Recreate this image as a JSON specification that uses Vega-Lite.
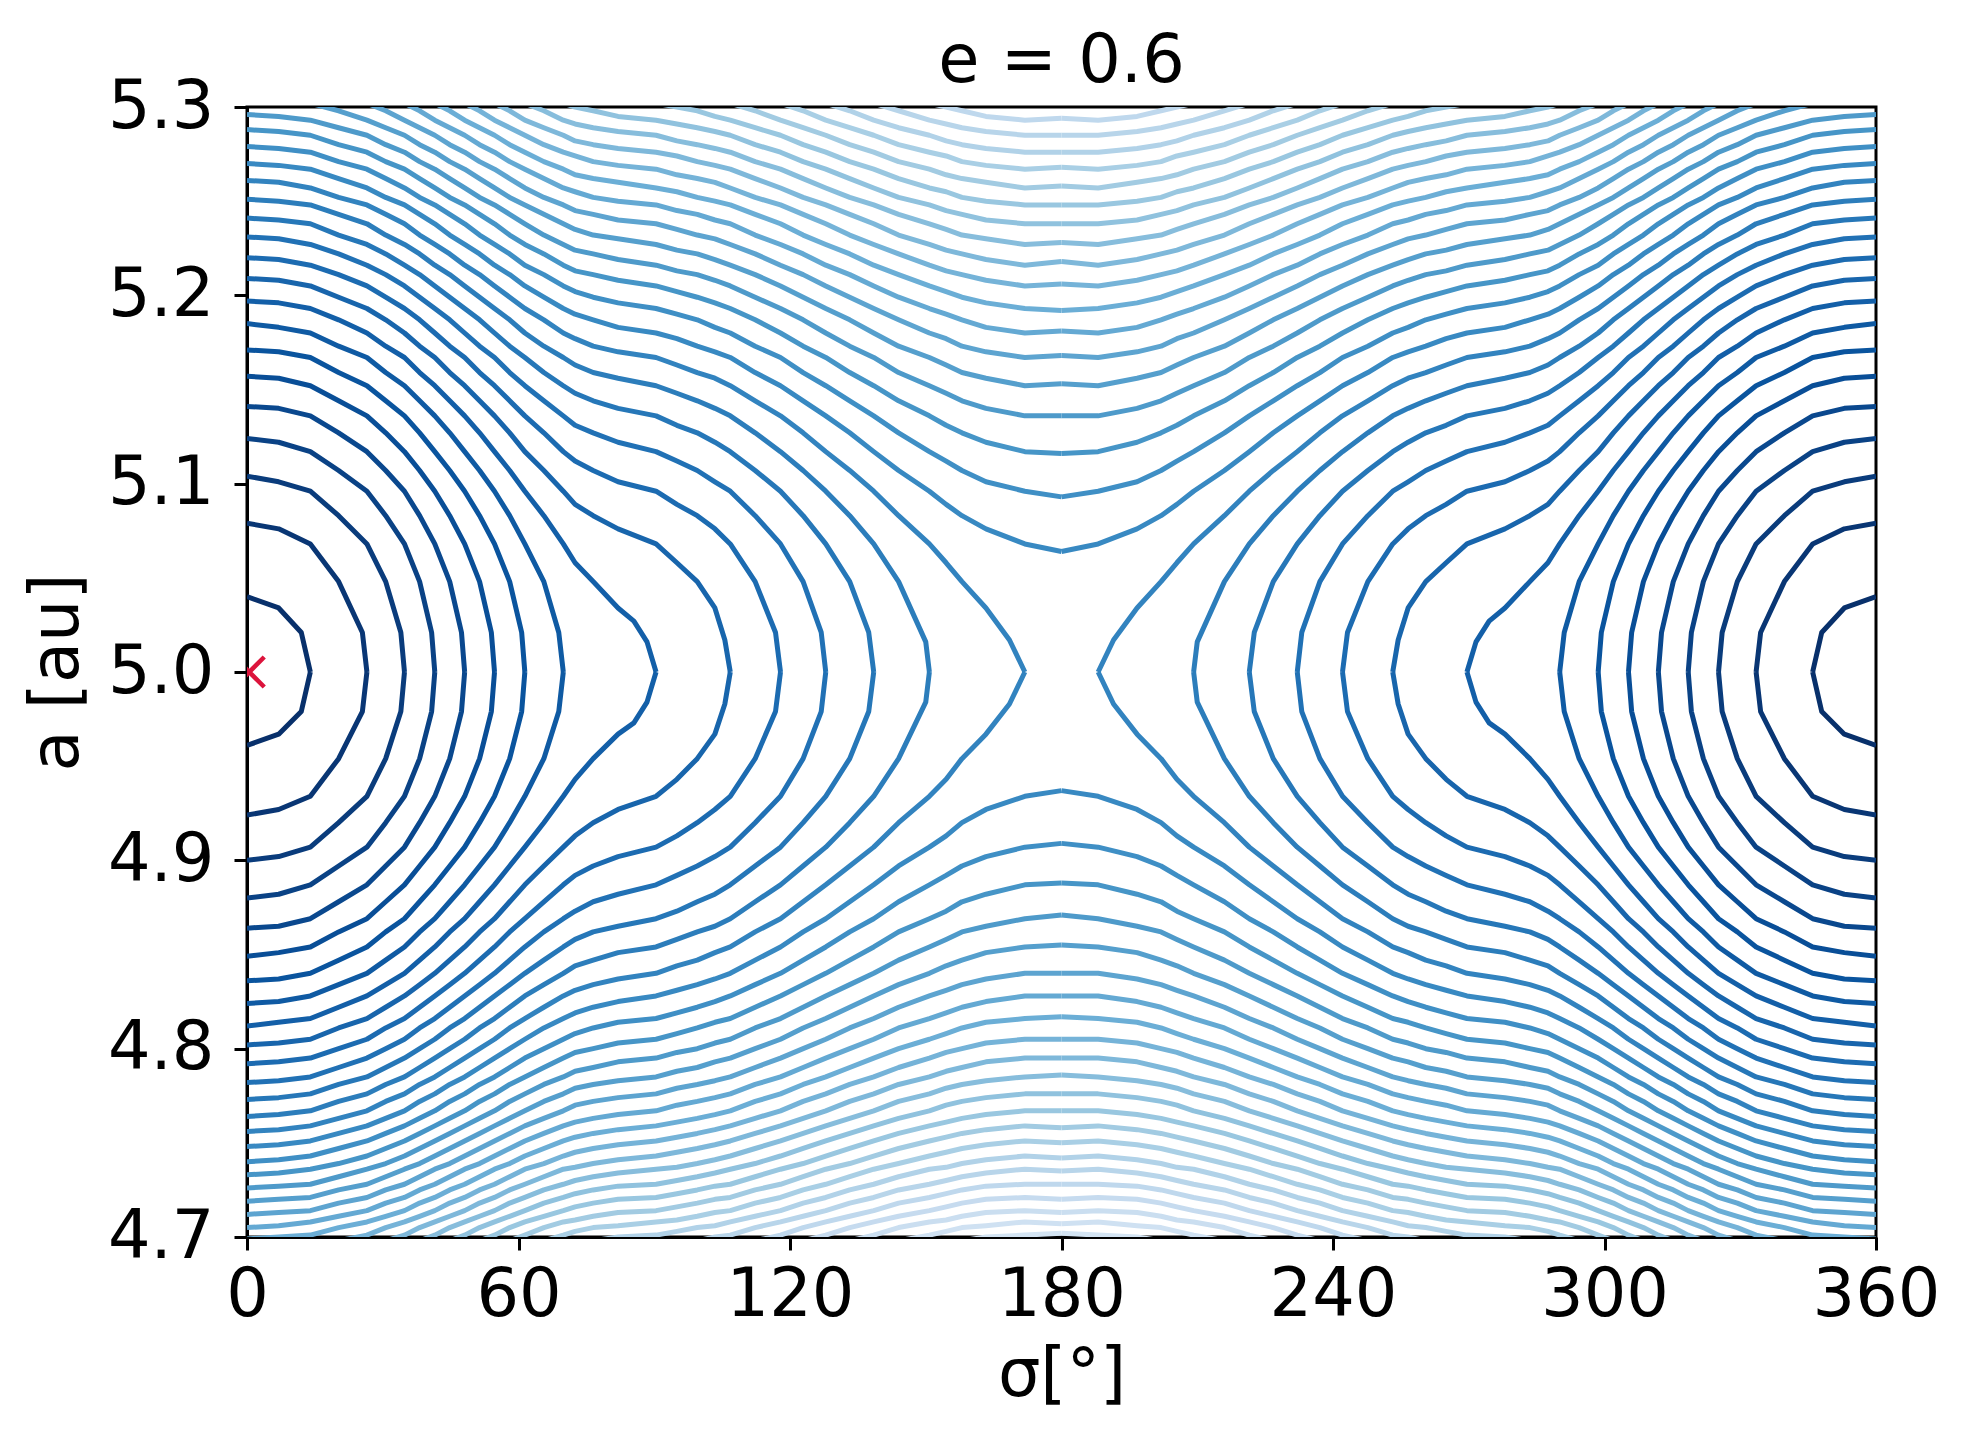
{
"$schema": "https://vega.github.io/schema/vega-lite/v6.json",
"width": 1629, "height": 1130,
"autosize": {"type": "none"},
"padding": {"left": 247, "top": 107, "right": 93, "bottom": 210},
"background": "white",
"title": {"text": "e = 0.6", "fontSize": 67, "font": "DejaVu Sans", "fontWeight": "normal", "color": "black", "frame": "group", "anchor": "middle", "baseline": "alphabetic", "offset": -76},
"datasets": {
"mk": [{"s": 0.5, "a": 5.0}],
"c": [
{"k":0,"s":0,"m":360,"t":5.04,"b":4.961},
{"k":0,"s":7,"m":353,"t":5.034,"b":4.967},
{"k":0,"s":12,"m":348,"t":5.021,"b":4.979},
{"k":0,"s":14,"m":346,"t":5,"b":5},
{"k":1,"s":0,"m":360,"t":5.079,"b":4.924},
{"k":1,"s":7,"m":353,"t":5.076,"b":4.927},
{"k":1,"s":14,"m":346,"t":5.068,"b":4.934},
{"k":1,"s":20.25,"m":339.75,"t":5.048,"b":4.954},
{"k":1,"s":25.5,"m":334.5,"t":5.021,"b":4.979},
{"k":1,"s":26.5,"m":333.5,"t":5,"b":5},
{"k":2,"s":0,"m":360,"t":5.104,"b":4.9},
{"k":2,"s":7,"m":353,"t":5.101,"b":4.902},
{"k":2,"s":14,"m":346,"t":5.096,"b":4.907},
{"k":2,"s":20.25,"m":339.75,"t":5.083,"b":4.92},
{"k":2,"s":26.5,"m":333.5,"t":5.068,"b":4.934},
{"k":2,"s":30.65,"m":329.35,"t":5.048,"b":4.954},
{"k":2,"s":34,"m":326,"t":5.021,"b":4.979},
{"k":2,"s":34.8,"m":325.2,"t":5,"b":5},
{"k":3,"s":0,"m":360,"t":5.124,"b":4.88},
{"k":3,"s":7,"m":353,"t":5.122,"b":4.882},
{"k":3,"s":14,"m":346,"t":5.117,"b":4.887},
{"k":3,"s":20.25,"m":339.75,"t":5.107,"b":4.897},
{"k":3,"s":26.5,"m":333.5,"t":5.096,"b":4.907},
{"k":3,"s":30.65,"m":329.35,"t":5.083,"b":4.92},
{"k":3,"s":34.8,"m":325.2,"t":5.068,"b":4.934},
{"k":3,"s":38.15,"m":321.85,"t":5.048,"b":4.954},
{"k":3,"s":40.8,"m":319.2,"t":5.021,"b":4.979},
{"k":3,"s":41.5,"m":318.5,"t":5,"b":5},
{"k":4,"s":0,"m":360,"t":5.141,"b":4.864},
{"k":4,"s":7,"m":353,"t":5.14,"b":4.865},
{"k":4,"s":14,"m":346,"t":5.136,"b":4.869},
{"k":4,"s":20.25,"m":339.75,"t":5.127,"b":4.878},
{"k":4,"s":26.5,"m":333.5,"t":5.117,"b":4.887},
{"k":4,"s":30.65,"m":329.35,"t":5.107,"b":4.897},
{"k":4,"s":34.8,"m":325.2,"t":5.096,"b":4.907},
{"k":4,"s":38.15,"m":321.85,"t":5.083,"b":4.92},
{"k":4,"s":41.5,"m":318.5,"t":5.068,"b":4.934},
{"k":4,"s":44.8,"m":315.2,"t":5.048,"b":4.954},
{"k":4,"s":47.4,"m":312.6,"t":5.021,"b":4.979},
{"k":4,"s":48.1,"m":311.9,"t":5,"b":5},
{"k":5,"s":0,"m":360,"t":5.157,"b":4.849},
{"k":5,"s":7,"m":353,"t":5.156,"b":4.851},
{"k":5,"s":14,"m":346,"t":5.152,"b":4.854},
{"k":5,"s":20.25,"m":339.75,"t":5.144,"b":4.862},
{"k":5,"s":26.5,"m":333.5,"t":5.136,"b":4.869},
{"k":5,"s":30.65,"m":329.35,"t":5.127,"b":4.878},
{"k":5,"s":34.8,"m":325.2,"t":5.117,"b":4.887},
{"k":5,"s":38.15,"m":321.85,"t":5.107,"b":4.897},
{"k":5,"s":41.5,"m":318.5,"t":5.096,"b":4.907},
{"k":5,"s":44.8,"m":315.2,"t":5.083,"b":4.92},
{"k":5,"s":48.1,"m":311.9,"t":5.068,"b":4.934},
{"k":5,"s":51.4,"m":308.6,"t":5.048,"b":4.954},
{"k":5,"s":54,"m":306,"t":5.021,"b":4.979},
{"k":5,"s":54.7,"m":305.3,"t":5,"b":5},
{"k":6,"s":0,"m":360,"t":5.171,"b":4.836},
{"k":6,"s":7,"m":353,"t":5.17,"b":4.837},
{"k":6,"s":14,"m":346,"t":5.167,"b":4.84},
{"k":6,"s":20.25,"m":339.75,"t":5.159,"b":4.847},
{"k":6,"s":26.5,"m":333.5,"t":5.152,"b":4.854},
{"k":6,"s":30.65,"m":329.35,"t":5.144,"b":4.862},
{"k":6,"s":34.8,"m":325.2,"t":5.136,"b":4.869},
{"k":6,"s":38.15,"m":321.85,"t":5.127,"b":4.878},
{"k":6,"s":41.5,"m":318.5,"t":5.117,"b":4.887},
{"k":6,"s":44.8,"m":315.2,"t":5.107,"b":4.897},
{"k":6,"s":48.1,"m":311.9,"t":5.096,"b":4.907},
{"k":6,"s":51.4,"m":308.6,"t":5.083,"b":4.92},
{"k":6,"s":54.7,"m":305.3,"t":5.068,"b":4.934},
{"k":6,"s":58.05,"m":301.95,"t":5.048,"b":4.954},
{"k":6,"s":60.7,"m":299.3,"t":5.021,"b":4.979},
{"k":6,"s":61.4,"m":298.6,"t":5,"b":5},
{"k":7,"s":0,"m":360,"t":5.185,"b":4.824},
{"k":7,"s":7,"m":353,"t":5.183,"b":4.825},
{"k":7,"s":14,"m":346,"t":5.18,"b":4.828},
{"k":7,"s":20.25,"m":339.75,"t":5.173,"b":4.834},
{"k":7,"s":26.5,"m":333.5,"t":5.167,"b":4.84},
{"k":7,"s":30.65,"m":329.35,"t":5.159,"b":4.847},
{"k":7,"s":34.8,"m":325.2,"t":5.152,"b":4.854},
{"k":7,"s":38.15,"m":321.85,"t":5.144,"b":4.862},
{"k":7,"s":41.5,"m":318.5,"t":5.136,"b":4.869},
{"k":7,"s":44.8,"m":315.2,"t":5.127,"b":4.878},
{"k":7,"s":48.1,"m":311.9,"t":5.117,"b":4.887},
{"k":7,"s":51.4,"m":308.6,"t":5.107,"b":4.897},
{"k":7,"s":54.7,"m":305.3,"t":5.096,"b":4.907},
{"k":7,"s":58.05,"m":301.95,"t":5.083,"b":4.92},
{"k":7,"s":61.4,"m":298.6,"t":5.068,"b":4.934},
{"k":7,"s":65.6,"m":294.4,"t":5.048,"b":4.954},
{"k":7,"s":68.9,"m":291.1,"t":5.021,"b":4.979},
{"k":7,"s":69.9,"m":290.1,"t":5,"b":5},
{"k":8,"s":0,"m":360,"t":5.197,"b":4.812},
{"k":8,"s":7,"m":353,"t":5.196,"b":4.814},
{"k":8,"s":14,"m":346,"t":5.193,"b":4.816},
{"k":8,"s":20.25,"m":339.75,"t":5.187,"b":4.822},
{"k":8,"s":26.5,"m":333.5,"t":5.18,"b":4.828},
{"k":8,"s":30.65,"m":329.35,"t":5.173,"b":4.834},
{"k":8,"s":34.8,"m":325.2,"t":5.167,"b":4.84},
{"k":8,"s":38.15,"m":321.85,"t":5.159,"b":4.847},
{"k":8,"s":41.5,"m":318.5,"t":5.152,"b":4.854},
{"k":8,"s":44.8,"m":315.2,"t":5.144,"b":4.862},
{"k":8,"s":48.1,"m":311.9,"t":5.136,"b":4.869},
{"k":8,"s":51.4,"m":308.6,"t":5.127,"b":4.878},
{"k":8,"s":54.7,"m":305.3,"t":5.117,"b":4.887},
{"k":8,"s":58.05,"m":301.95,"t":5.107,"b":4.897},
{"k":8,"s":61.4,"m":298.6,"t":5.096,"b":4.907},
{"k":8,"s":65.6,"m":294.4,"t":5.083,"b":4.92},
{"k":8,"s":69.9,"m":290.1,"t":5.068,"b":4.934},
{"k":8,"s":72.5,"m":287.5,"t":5.058,"b":4.943},
{"k":8,"s":76.5,"m":283.5,"t":5.048,"b":4.954},
{"k":8,"s":82,"m":278,"t":5.034,"b":4.967},
{"k":8,"s":85.5,"m":274.5,"t":5.027,"b":4.973},
{"k":8,"s":88.4,"m":271.6,"t":5.016,"b":4.984},
{"k":8,"s":90.4,"m":269.6,"t":5,"b":5},
{"k":9,"s":0,"m":360,"t":5.209,"b":4.802},
{"k":9,"s":7,"m":353,"t":5.208,"b":4.803},
{"k":9,"s":14,"m":346,"t":5.205,"b":4.805},
{"k":9,"s":20.25,"m":339.75,"t":5.199,"b":4.811},
{"k":9,"s":26.5,"m":333.5,"t":5.193,"b":4.816},
{"k":9,"s":30.65,"m":329.35,"t":5.187,"b":4.822},
{"k":9,"s":34.8,"m":325.2,"t":5.18,"b":4.828},
{"k":9,"s":38.15,"m":321.85,"t":5.173,"b":4.834},
{"k":9,"s":41.5,"m":318.5,"t":5.167,"b":4.84},
{"k":9,"s":44.8,"m":315.2,"t":5.159,"b":4.847},
{"k":9,"s":48.1,"m":311.9,"t":5.152,"b":4.854},
{"k":9,"s":51.4,"m":308.6,"t":5.144,"b":4.862},
{"k":9,"s":54.7,"m":305.3,"t":5.136,"b":4.869},
{"k":9,"s":58.05,"m":301.95,"t":5.127,"b":4.878},
{"k":9,"s":61.4,"m":298.6,"t":5.117,"b":4.887},
{"k":9,"s":65.6,"m":294.4,"t":5.107,"b":4.897},
{"k":9,"s":69.9,"m":290.1,"t":5.096,"b":4.907},
{"k":9,"s":72.5,"m":287.5,"t":5.089,"b":4.913},
{"k":9,"s":76.5,"m":283.5,"t":5.083,"b":4.92},
{"k":9,"s":82,"m":278,"t":5.076,"b":4.927},
{"k":9,"s":90.4,"m":269.6,"t":5.068,"b":4.934},
{"k":9,"s":95,"m":265,"t":5.058,"b":4.943},
{"k":9,"s":99.5,"m":260.5,"t":5.048,"b":4.954},
{"k":9,"s":103.4,"m":256.6,"t":5.034,"b":4.967},
{"k":9,"s":105.6,"m":254.4,"t":5.017,"b":4.983},
{"k":9,"s":106.8,"m":253.2,"t":5,"b":5},
{"k":10,"s":0,"m":360,"t":5.22,"b":4.792},
{"k":10,"s":7,"m":353,"t":5.219,"b":4.793},
{"k":10,"s":14,"m":346,"t":5.216,"b":4.795},
{"k":10,"s":20.25,"m":339.75,"t":5.211,"b":4.8},
{"k":10,"s":26.5,"m":333.5,"t":5.205,"b":4.805},
{"k":10,"s":30.65,"m":329.35,"t":5.199,"b":4.811},
{"k":10,"s":34.8,"m":325.2,"t":5.193,"b":4.816},
{"k":10,"s":38.15,"m":321.85,"t":5.187,"b":4.822},
{"k":10,"s":41.5,"m":318.5,"t":5.18,"b":4.828},
{"k":10,"s":44.8,"m":315.2,"t":5.173,"b":4.834},
{"k":10,"s":48.1,"m":311.9,"t":5.167,"b":4.84},
{"k":10,"s":51.4,"m":308.6,"t":5.159,"b":4.847},
{"k":10,"s":54.7,"m":305.3,"t":5.152,"b":4.854},
{"k":10,"s":58.05,"m":301.95,"t":5.144,"b":4.862},
{"k":10,"s":61.4,"m":298.6,"t":5.136,"b":4.869},
{"k":10,"s":65.6,"m":294.4,"t":5.127,"b":4.878},
{"k":10,"s":69.9,"m":290.1,"t":5.117,"b":4.887},
{"k":10,"s":72.5,"m":287.5,"t":5.112,"b":4.892},
{"k":10,"s":76.5,"m":283.5,"t":5.107,"b":4.897},
{"k":10,"s":82,"m":278,"t":5.101,"b":4.902},
{"k":10,"s":90.4,"m":269.6,"t":5.096,"b":4.907},
{"k":10,"s":95,"m":265,"t":5.089,"b":4.913},
{"k":10,"s":99.5,"m":260.5,"t":5.083,"b":4.92},
{"k":10,"s":103.4,"m":256.6,"t":5.076,"b":4.927},
{"k":10,"s":106.8,"m":253.2,"t":5.068,"b":4.934},
{"k":10,"s":112.3,"m":247.7,"t":5.048,"b":4.954},
{"k":10,"s":116.8,"m":243.2,"t":5.021,"b":4.979},
{"k":10,"s":117.9,"m":242.1,"t":5,"b":5},
{"k":11,"s":0,"m":360,"t":5.231,"b":4.782},
{"k":11,"s":7,"m":353,"t":5.23,"b":4.783},
{"k":11,"s":14,"m":346,"t":5.227,"b":4.785},
{"k":11,"s":20.25,"m":339.75,"t":5.222,"b":4.79},
{"k":11,"s":26.5,"m":333.5,"t":5.216,"b":4.795},
{"k":11,"s":30.65,"m":329.35,"t":5.211,"b":4.8},
{"k":11,"s":34.8,"m":325.2,"t":5.205,"b":4.805},
{"k":11,"s":38.15,"m":321.85,"t":5.199,"b":4.811},
{"k":11,"s":41.5,"m":318.5,"t":5.193,"b":4.816},
{"k":11,"s":44.8,"m":315.2,"t":5.187,"b":4.822},
{"k":11,"s":48.1,"m":311.9,"t":5.18,"b":4.828},
{"k":11,"s":51.4,"m":308.6,"t":5.173,"b":4.834},
{"k":11,"s":54.7,"m":305.3,"t":5.167,"b":4.84},
{"k":11,"s":58.05,"m":301.95,"t":5.159,"b":4.847},
{"k":11,"s":61.4,"m":298.6,"t":5.152,"b":4.854},
{"k":11,"s":65.6,"m":294.4,"t":5.144,"b":4.862},
{"k":11,"s":69.9,"m":290.1,"t":5.136,"b":4.869},
{"k":11,"s":72.5,"m":287.5,"t":5.131,"b":4.873},
{"k":11,"s":76.5,"m":283.5,"t":5.127,"b":4.878},
{"k":11,"s":82,"m":278,"t":5.122,"b":4.882},
{"k":11,"s":90.4,"m":269.6,"t":5.117,"b":4.887},
{"k":11,"s":95,"m":265,"t":5.112,"b":4.892},
{"k":11,"s":99.5,"m":260.5,"t":5.107,"b":4.897},
{"k":11,"s":103.4,"m":256.6,"t":5.101,"b":4.902},
{"k":11,"s":106.8,"m":253.2,"t":5.096,"b":4.907},
{"k":11,"s":112.3,"m":247.7,"t":5.083,"b":4.92},
{"k":11,"s":117.9,"m":242.1,"t":5.068,"b":4.934},
{"k":11,"s":122.9,"m":237.1,"t":5.048,"b":4.954},
{"k":11,"s":126.9,"m":233.1,"t":5.021,"b":4.979},
{"k":11,"s":127.9,"m":232.1,"t":5,"b":5},
{"k":12,"s":0,"m":360,"t":5.241,"b":4.773},
{"k":12,"s":7,"m":353,"t":5.24,"b":4.774},
{"k":12,"s":14,"m":346,"t":5.238,"b":4.776},
{"k":12,"s":20.25,"m":339.75,"t":5.232,"b":4.781},
{"k":12,"s":26.5,"m":333.5,"t":5.227,"b":4.785},
{"k":12,"s":30.65,"m":329.35,"t":5.222,"b":4.79},
{"k":12,"s":34.8,"m":325.2,"t":5.216,"b":4.795},
{"k":12,"s":38.15,"m":321.85,"t":5.211,"b":4.8},
{"k":12,"s":41.5,"m":318.5,"t":5.205,"b":4.805},
{"k":12,"s":44.8,"m":315.2,"t":5.199,"b":4.811},
{"k":12,"s":48.1,"m":311.9,"t":5.193,"b":4.816},
{"k":12,"s":51.4,"m":308.6,"t":5.187,"b":4.822},
{"k":12,"s":54.7,"m":305.3,"t":5.18,"b":4.828},
{"k":12,"s":58.05,"m":301.95,"t":5.173,"b":4.834},
{"k":12,"s":61.4,"m":298.6,"t":5.167,"b":4.84},
{"k":12,"s":65.6,"m":294.4,"t":5.159,"b":4.847},
{"k":12,"s":69.9,"m":290.1,"t":5.152,"b":4.854},
{"k":12,"s":72.5,"m":287.5,"t":5.148,"b":4.858},
{"k":12,"s":76.5,"m":283.5,"t":5.144,"b":4.862},
{"k":12,"s":82,"m":278,"t":5.14,"b":4.865},
{"k":12,"s":90.4,"m":269.6,"t":5.136,"b":4.869},
{"k":12,"s":95,"m":265,"t":5.131,"b":4.873},
{"k":12,"s":99.5,"m":260.5,"t":5.127,"b":4.878},
{"k":12,"s":103.4,"m":256.6,"t":5.122,"b":4.882},
{"k":12,"s":106.8,"m":253.2,"t":5.117,"b":4.887},
{"k":12,"s":112.3,"m":247.7,"t":5.107,"b":4.897},
{"k":12,"s":117.9,"m":242.1,"t":5.096,"b":4.907},
{"k":12,"s":122.9,"m":237.1,"t":5.083,"b":4.92},
{"k":12,"s":127.9,"m":232.1,"t":5.068,"b":4.934},
{"k":12,"s":133.2,"m":226.8,"t":5.048,"b":4.954},
{"k":12,"s":137.4,"m":222.6,"t":5.021,"b":4.979},
{"k":12,"s":138.5,"m":221.5,"t":5,"b":5},
{"k":13,"s":0,"m":360,"t":5.251,"b":4.764},
{"k":13,"s":7,"m":353,"t":5.25,"b":4.765},
{"k":13,"s":14,"m":346,"t":5.248,"b":4.767},
{"k":13,"s":20.25,"m":339.75,"t":5.243,"b":4.772},
{"k":13,"s":26.5,"m":333.5,"t":5.238,"b":4.776},
{"k":13,"s":30.65,"m":329.35,"t":5.232,"b":4.781},
{"k":13,"s":34.8,"m":325.2,"t":5.227,"b":4.785},
{"k":13,"s":38.15,"m":321.85,"t":5.222,"b":4.79},
{"k":13,"s":41.5,"m":318.5,"t":5.216,"b":4.795},
{"k":13,"s":44.8,"m":315.2,"t":5.211,"b":4.8},
{"k":13,"s":48.1,"m":311.9,"t":5.205,"b":4.805},
{"k":13,"s":51.4,"m":308.6,"t":5.199,"b":4.811},
{"k":13,"s":54.7,"m":305.3,"t":5.193,"b":4.816},
{"k":13,"s":58.05,"m":301.95,"t":5.187,"b":4.822},
{"k":13,"s":61.4,"m":298.6,"t":5.18,"b":4.828},
{"k":13,"s":65.6,"m":294.4,"t":5.173,"b":4.834},
{"k":13,"s":69.9,"m":290.1,"t":5.167,"b":4.84},
{"k":13,"s":72.5,"m":287.5,"t":5.163,"b":4.844},
{"k":13,"s":76.5,"m":283.5,"t":5.159,"b":4.847},
{"k":13,"s":82,"m":278,"t":5.156,"b":4.851},
{"k":13,"s":90.4,"m":269.6,"t":5.152,"b":4.854},
{"k":13,"s":95,"m":265,"t":5.148,"b":4.858},
{"k":13,"s":99.5,"m":260.5,"t":5.144,"b":4.862},
{"k":13,"s":103.4,"m":256.6,"t":5.14,"b":4.865},
{"k":13,"s":106.8,"m":253.2,"t":5.136,"b":4.869},
{"k":13,"s":112.3,"m":247.7,"t":5.127,"b":4.878},
{"k":13,"s":117.9,"m":242.1,"t":5.117,"b":4.887},
{"k":13,"s":122.9,"m":237.1,"t":5.107,"b":4.897},
{"k":13,"s":127.9,"m":232.1,"t":5.096,"b":4.907},
{"k":13,"s":133.2,"m":226.8,"t":5.083,"b":4.92},
{"k":13,"s":138.5,"m":221.5,"t":5.068,"b":4.934},
{"k":13,"s":144,"m":216,"t":5.048,"b":4.954},
{"k":13,"s":150,"m":210,"t":5.016,"b":4.984},
{"k":13,"s":150.8,"m":209.2,"t":5,"b":5},
{"k":14,"s":0,"m":360,"t":5.261,"b":4.756},
{"k":14,"s":7,"m":353,"t":5.26,"b":4.757},
{"k":14,"s":14,"m":346,"t":5.257,"b":4.759},
{"k":14,"s":20.25,"m":339.75,"t":5.252,"b":4.763},
{"k":14,"s":26.5,"m":333.5,"t":5.248,"b":4.767},
{"k":14,"s":30.65,"m":329.35,"t":5.243,"b":4.772},
{"k":14,"s":34.8,"m":325.2,"t":5.238,"b":4.776},
{"k":14,"s":38.15,"m":321.85,"t":5.232,"b":4.781},
{"k":14,"s":41.5,"m":318.5,"t":5.227,"b":4.785},
{"k":14,"s":44.8,"m":315.2,"t":5.222,"b":4.79},
{"k":14,"s":48.1,"m":311.9,"t":5.216,"b":4.795},
{"k":14,"s":51.4,"m":308.6,"t":5.211,"b":4.8},
{"k":14,"s":54.7,"m":305.3,"t":5.205,"b":4.805},
{"k":14,"s":58.05,"m":301.95,"t":5.199,"b":4.811},
{"k":14,"s":61.4,"m":298.6,"t":5.193,"b":4.816},
{"k":14,"s":65.6,"m":294.4,"t":5.187,"b":4.822},
{"k":14,"s":69.9,"m":290.1,"t":5.18,"b":4.828},
{"k":14,"s":72.5,"m":287.5,"t":5.177,"b":4.831},
{"k":14,"s":76.5,"m":283.5,"t":5.173,"b":4.834},
{"k":14,"s":82,"m":278,"t":5.17,"b":4.837},
{"k":14,"s":90.4,"m":269.6,"t":5.167,"b":4.84},
{"k":14,"s":95,"m":265,"t":5.163,"b":4.844},
{"k":14,"s":99.5,"m":260.5,"t":5.159,"b":4.847},
{"k":14,"s":103.4,"m":256.6,"t":5.156,"b":4.851},
{"k":14,"s":106.8,"m":253.2,"t":5.152,"b":4.854},
{"k":14,"s":112.3,"m":247.7,"t":5.144,"b":4.862},
{"k":14,"s":117.9,"m":242.1,"t":5.136,"b":4.869},
{"k":14,"s":122.9,"m":237.1,"t":5.127,"b":4.878},
{"k":14,"s":127.9,"m":232.1,"t":5.117,"b":4.887},
{"k":14,"s":133.2,"m":226.8,"t":5.107,"b":4.897},
{"k":14,"s":138.5,"m":221.5,"t":5.096,"b":4.907},
{"k":14,"s":144,"m":216,"t":5.083,"b":4.92},
{"k":14,"s":150.8,"m":209.2,"t":5.068,"b":4.934},
{"k":14,"s":154.5,"m":205.5,"t":5.058,"b":4.943},
{"k":14,"s":158,"m":202,"t":5.048,"b":4.954},
{"k":14,"s":163.3,"m":196.7,"t":5.034,"b":4.967},
{"k":14,"s":168.5,"m":191.5,"t":5.017,"b":4.983},
{"k":14,"s":171.9,"m":188.1,"t":5,"b":5},
{"k":15,"s":0,"m":360,"t":5.27,"b":4.748},
{"k":15,"s":7,"m":353,"t":5.269,"b":4.749},
{"k":15,"s":14,"m":346,"t":5.267,"b":4.751},
{"k":15,"s":20.25,"m":339.75,"t":5.262,"b":4.755},
{"k":15,"s":26.5,"m":333.5,"t":5.257,"b":4.759},
{"k":15,"s":30.65,"m":329.35,"t":5.252,"b":4.763},
{"k":15,"s":34.8,"m":325.2,"t":5.248,"b":4.767},
{"k":15,"s":38.15,"m":321.85,"t":5.243,"b":4.772},
{"k":15,"s":41.5,"m":318.5,"t":5.238,"b":4.776},
{"k":15,"s":44.8,"m":315.2,"t":5.232,"b":4.781},
{"k":15,"s":48.1,"m":311.9,"t":5.227,"b":4.785},
{"k":15,"s":51.4,"m":308.6,"t":5.222,"b":4.79},
{"k":15,"s":54.7,"m":305.3,"t":5.216,"b":4.795},
{"k":15,"s":58.05,"m":301.95,"t":5.211,"b":4.8},
{"k":15,"s":61.4,"m":298.6,"t":5.205,"b":4.805},
{"k":15,"s":65.6,"m":294.4,"t":5.199,"b":4.811},
{"k":15,"s":69.9,"m":290.1,"t":5.193,"b":4.816},
{"k":15,"s":72.5,"m":287.5,"t":5.19,"b":4.819},
{"k":15,"s":76.5,"m":283.5,"t":5.187,"b":4.822},
{"k":15,"s":82,"m":278,"t":5.183,"b":4.825},
{"k":15,"s":90.4,"m":269.6,"t":5.18,"b":4.828},
{"k":15,"s":95,"m":265,"t":5.177,"b":4.831},
{"k":15,"s":99.5,"m":260.5,"t":5.173,"b":4.834},
{"k":15,"s":103.4,"m":256.6,"t":5.17,"b":4.837},
{"k":15,"s":106.8,"m":253.2,"t":5.167,"b":4.84},
{"k":15,"s":112.3,"m":247.7,"t":5.159,"b":4.847},
{"k":15,"s":117.9,"m":242.1,"t":5.152,"b":4.854},
{"k":15,"s":122.9,"m":237.1,"t":5.144,"b":4.862},
{"k":15,"s":127.9,"m":232.1,"t":5.136,"b":4.869},
{"k":15,"s":133.2,"m":226.8,"t":5.127,"b":4.878},
{"k":15,"s":138.5,"m":221.5,"t":5.117,"b":4.887},
{"k":15,"s":144,"m":216,"t":5.107,"b":4.897},
{"k":15,"s":150.8,"m":209.2,"t":5.096,"b":4.907},
{"k":15,"s":154.5,"m":205.5,"t":5.089,"b":4.913},
{"k":15,"s":158,"m":202,"t":5.083,"b":4.92},
{"k":15,"s":163.3,"m":196.7,"t":5.076,"b":4.927},
{"k":15,"s":171.9,"m":188.1,"t":5.068,"b":4.934},
{"k":15,"s":180,"m":180,"t":5.064,"b":4.937},
{"k":16,"s":0,"m":360,"t":5.279,"b":4.74},
{"k":16,"s":7,"m":353,"t":5.278,"b":4.741},
{"k":16,"s":14,"m":346,"t":5.276,"b":4.743},
{"k":16,"s":20.25,"m":339.75,"t":5.271,"b":4.747},
{"k":16,"s":26.5,"m":333.5,"t":5.267,"b":4.751},
{"k":16,"s":30.65,"m":329.35,"t":5.262,"b":4.755},
{"k":16,"s":34.8,"m":325.2,"t":5.257,"b":4.759},
{"k":16,"s":38.15,"m":321.85,"t":5.252,"b":4.763},
{"k":16,"s":41.5,"m":318.5,"t":5.248,"b":4.767},
{"k":16,"s":44.8,"m":315.2,"t":5.243,"b":4.772},
{"k":16,"s":48.1,"m":311.9,"t":5.238,"b":4.776},
{"k":16,"s":51.4,"m":308.6,"t":5.232,"b":4.781},
{"k":16,"s":54.7,"m":305.3,"t":5.227,"b":4.785},
{"k":16,"s":58.05,"m":301.95,"t":5.222,"b":4.79},
{"k":16,"s":61.4,"m":298.6,"t":5.216,"b":4.795},
{"k":16,"s":65.6,"m":294.4,"t":5.211,"b":4.8},
{"k":16,"s":69.9,"m":290.1,"t":5.205,"b":4.805},
{"k":16,"s":72.5,"m":287.5,"t":5.202,"b":4.808},
{"k":16,"s":76.5,"m":283.5,"t":5.199,"b":4.811},
{"k":16,"s":82,"m":278,"t":5.196,"b":4.814},
{"k":16,"s":90.4,"m":269.6,"t":5.193,"b":4.816},
{"k":16,"s":95,"m":265,"t":5.19,"b":4.819},
{"k":16,"s":99.5,"m":260.5,"t":5.187,"b":4.822},
{"k":16,"s":103.4,"m":256.6,"t":5.183,"b":4.825},
{"k":16,"s":106.8,"m":253.2,"t":5.18,"b":4.828},
{"k":16,"s":112.3,"m":247.7,"t":5.173,"b":4.834},
{"k":16,"s":117.9,"m":242.1,"t":5.167,"b":4.84},
{"k":16,"s":122.9,"m":237.1,"t":5.159,"b":4.847},
{"k":16,"s":127.9,"m":232.1,"t":5.152,"b":4.854},
{"k":16,"s":133.2,"m":226.8,"t":5.144,"b":4.862},
{"k":16,"s":138.5,"m":221.5,"t":5.136,"b":4.869},
{"k":16,"s":144,"m":216,"t":5.127,"b":4.878},
{"k":16,"s":150.8,"m":209.2,"t":5.117,"b":4.887},
{"k":16,"s":154.5,"m":205.5,"t":5.112,"b":4.892},
{"k":16,"s":158,"m":202,"t":5.107,"b":4.897},
{"k":16,"s":163.3,"m":196.7,"t":5.101,"b":4.902},
{"k":16,"s":171.9,"m":188.1,"t":5.096,"b":4.907},
{"k":16,"s":180,"m":180,"t":5.093,"b":4.909},
{"k":17,"s":0,"m":360,"t":5.288,"b":4.733},
{"k":17,"s":7,"m":353,"t":5.287,"b":4.734},
{"k":17,"s":14,"m":346,"t":5.285,"b":4.736},
{"k":17,"s":20.25,"m":339.75,"t":5.28,"b":4.739},
{"k":17,"s":26.5,"m":333.5,"t":5.276,"b":4.743},
{"k":17,"s":30.65,"m":329.35,"t":5.271,"b":4.747},
{"k":17,"s":34.8,"m":325.2,"t":5.267,"b":4.751},
{"k":17,"s":38.15,"m":321.85,"t":5.262,"b":4.755},
{"k":17,"s":41.5,"m":318.5,"t":5.257,"b":4.759},
{"k":17,"s":44.8,"m":315.2,"t":5.252,"b":4.763},
{"k":17,"s":48.1,"m":311.9,"t":5.248,"b":4.767},
{"k":17,"s":51.4,"m":308.6,"t":5.243,"b":4.772},
{"k":17,"s":54.7,"m":305.3,"t":5.238,"b":4.776},
{"k":17,"s":58.05,"m":301.95,"t":5.232,"b":4.781},
{"k":17,"s":61.4,"m":298.6,"t":5.227,"b":4.785},
{"k":17,"s":65.6,"m":294.4,"t":5.222,"b":4.79},
{"k":17,"s":69.9,"m":290.1,"t":5.216,"b":4.795},
{"k":17,"s":72.5,"m":287.5,"t":5.213,"b":4.798},
{"k":17,"s":76.5,"m":283.5,"t":5.211,"b":4.8},
{"k":17,"s":82,"m":278,"t":5.208,"b":4.803},
{"k":17,"s":90.4,"m":269.6,"t":5.205,"b":4.805},
{"k":17,"s":95,"m":265,"t":5.202,"b":4.808},
{"k":17,"s":99.5,"m":260.5,"t":5.199,"b":4.811},
{"k":17,"s":103.4,"m":256.6,"t":5.196,"b":4.814},
{"k":17,"s":106.8,"m":253.2,"t":5.193,"b":4.816},
{"k":17,"s":112.3,"m":247.7,"t":5.187,"b":4.822},
{"k":17,"s":117.9,"m":242.1,"t":5.18,"b":4.828},
{"k":17,"s":122.9,"m":237.1,"t":5.173,"b":4.834},
{"k":17,"s":127.9,"m":232.1,"t":5.167,"b":4.84},
{"k":17,"s":133.2,"m":226.8,"t":5.159,"b":4.847},
{"k":17,"s":138.5,"m":221.5,"t":5.152,"b":4.854},
{"k":17,"s":144,"m":216,"t":5.144,"b":4.862},
{"k":17,"s":150.8,"m":209.2,"t":5.136,"b":4.869},
{"k":17,"s":154.5,"m":205.5,"t":5.131,"b":4.873},
{"k":17,"s":158,"m":202,"t":5.127,"b":4.878},
{"k":17,"s":163.3,"m":196.7,"t":5.122,"b":4.882},
{"k":17,"s":171.9,"m":188.1,"t":5.117,"b":4.887},
{"k":17,"s":180,"m":180,"t":5.116,"b":4.888},
{"k":18,"s":0,"m":360,"t":5.296,"b":4.726},
{"k":18,"s":7,"m":353,"t":5.295,"b":4.727},
{"k":18,"s":14,"m":346,"t":5.293,"b":4.728},
{"k":18,"s":20.25,"m":339.75,"t":5.289,"b":4.732},
{"k":18,"s":26.5,"m":333.5,"t":5.285,"b":4.736},
{"k":18,"s":30.65,"m":329.35,"t":5.28,"b":4.739},
{"k":18,"s":34.8,"m":325.2,"t":5.276,"b":4.743},
{"k":18,"s":38.15,"m":321.85,"t":5.271,"b":4.747},
{"k":18,"s":41.5,"m":318.5,"t":5.267,"b":4.751},
{"k":18,"s":44.8,"m":315.2,"t":5.262,"b":4.755},
{"k":18,"s":48.1,"m":311.9,"t":5.257,"b":4.759},
{"k":18,"s":51.4,"m":308.6,"t":5.252,"b":4.763},
{"k":18,"s":54.7,"m":305.3,"t":5.248,"b":4.767},
{"k":18,"s":58.05,"m":301.95,"t":5.243,"b":4.772},
{"k":18,"s":61.4,"m":298.6,"t":5.238,"b":4.776},
{"k":18,"s":65.6,"m":294.4,"t":5.232,"b":4.781},
{"k":18,"s":69.9,"m":290.1,"t":5.227,"b":4.785},
{"k":18,"s":72.5,"m":287.5,"t":5.224,"b":4.788},
{"k":18,"s":76.5,"m":283.5,"t":5.222,"b":4.79},
{"k":18,"s":82,"m":278,"t":5.219,"b":4.793},
{"k":18,"s":90.4,"m":269.6,"t":5.216,"b":4.795},
{"k":18,"s":95,"m":265,"t":5.213,"b":4.798},
{"k":18,"s":99.5,"m":260.5,"t":5.211,"b":4.8},
{"k":18,"s":103.4,"m":256.6,"t":5.208,"b":4.803},
{"k":18,"s":106.8,"m":253.2,"t":5.205,"b":4.805},
{"k":18,"s":112.3,"m":247.7,"t":5.199,"b":4.811},
{"k":18,"s":117.9,"m":242.1,"t":5.193,"b":4.816},
{"k":18,"s":122.9,"m":237.1,"t":5.187,"b":4.822},
{"k":18,"s":127.9,"m":232.1,"t":5.18,"b":4.828},
{"k":18,"s":133.2,"m":226.8,"t":5.173,"b":4.834},
{"k":18,"s":138.5,"m":221.5,"t":5.167,"b":4.84},
{"k":18,"s":144,"m":216,"t":5.159,"b":4.847},
{"k":18,"s":150.8,"m":209.2,"t":5.152,"b":4.854},
{"k":18,"s":154.5,"m":205.5,"t":5.148,"b":4.858},
{"k":18,"s":158,"m":202,"t":5.144,"b":4.862},
{"k":18,"s":163.3,"m":196.7,"t":5.14,"b":4.865},
{"k":18,"s":171.9,"m":188.1,"t":5.136,"b":4.869},
{"k":18,"s":180,"m":180,"t":5.136,"b":4.871},
{"k":19,"s":0,"m":360,"t":5.305,"b":4.719},
{"k":19,"s":7,"m":353,"t":5.304,"b":4.72},
{"k":19,"s":14,"m":346,"t":5.302,"b":4.721},
{"k":19,"s":20.25,"m":339.75,"t":5.298,"b":4.725},
{"k":19,"s":26.5,"m":333.5,"t":5.293,"b":4.728},
{"k":19,"s":30.65,"m":329.35,"t":5.289,"b":4.732},
{"k":19,"s":34.8,"m":325.2,"t":5.285,"b":4.736},
{"k":19,"s":38.15,"m":321.85,"t":5.28,"b":4.739},
{"k":19,"s":41.5,"m":318.5,"t":5.276,"b":4.743},
{"k":19,"s":44.8,"m":315.2,"t":5.271,"b":4.747},
{"k":19,"s":48.1,"m":311.9,"t":5.267,"b":4.751},
{"k":19,"s":51.4,"m":308.6,"t":5.262,"b":4.755},
{"k":19,"s":54.7,"m":305.3,"t":5.257,"b":4.759},
{"k":19,"s":58.05,"m":301.95,"t":5.252,"b":4.763},
{"k":19,"s":61.4,"m":298.6,"t":5.248,"b":4.767},
{"k":19,"s":65.6,"m":294.4,"t":5.243,"b":4.772},
{"k":19,"s":69.9,"m":290.1,"t":5.238,"b":4.776},
{"k":19,"s":72.5,"m":287.5,"t":5.235,"b":4.779},
{"k":19,"s":76.5,"m":283.5,"t":5.232,"b":4.781},
{"k":19,"s":82,"m":278,"t":5.23,"b":4.783},
{"k":19,"s":90.4,"m":269.6,"t":5.227,"b":4.785},
{"k":19,"s":95,"m":265,"t":5.224,"b":4.788},
{"k":19,"s":99.5,"m":260.5,"t":5.222,"b":4.79},
{"k":19,"s":103.4,"m":256.6,"t":5.219,"b":4.793},
{"k":19,"s":106.8,"m":253.2,"t":5.216,"b":4.795},
{"k":19,"s":112.3,"m":247.7,"t":5.211,"b":4.8},
{"k":19,"s":117.9,"m":242.1,"t":5.205,"b":4.805},
{"k":19,"s":122.9,"m":237.1,"t":5.199,"b":4.811},
{"k":19,"s":127.9,"m":232.1,"t":5.193,"b":4.816},
{"k":19,"s":133.2,"m":226.8,"t":5.187,"b":4.822},
{"k":19,"s":138.5,"m":221.5,"t":5.18,"b":4.828},
{"k":19,"s":144,"m":216,"t":5.173,"b":4.834},
{"k":19,"s":150.8,"m":209.2,"t":5.167,"b":4.84},
{"k":19,"s":154.5,"m":205.5,"t":5.163,"b":4.844},
{"k":19,"s":158,"m":202,"t":5.159,"b":4.847},
{"k":19,"s":163.3,"m":196.7,"t":5.156,"b":4.851},
{"k":19,"s":171.9,"m":188.1,"t":5.152,"b":4.854},
{"k":19,"s":180,"m":180,"t":5.153,"b":4.855},
{"k":20,"s":0,"m":360,"t":5.313,"b":4.712},
{"k":20,"s":7,"m":353,"t":5.312,"b":4.713},
{"k":20,"s":14,"m":346,"t":5.31,"b":4.714},
{"k":20,"s":20.25,"m":339.75,"t":5.306,"b":4.718},
{"k":20,"s":26.5,"m":333.5,"t":5.302,"b":4.721},
{"k":20,"s":30.65,"m":329.35,"t":5.298,"b":4.725},
{"k":20,"s":34.8,"m":325.2,"t":5.293,"b":4.728},
{"k":20,"s":38.15,"m":321.85,"t":5.289,"b":4.732},
{"k":20,"s":41.5,"m":318.5,"t":5.285,"b":4.736},
{"k":20,"s":44.8,"m":315.2,"t":5.28,"b":4.739},
{"k":20,"s":48.1,"m":311.9,"t":5.276,"b":4.743},
{"k":20,"s":51.4,"m":308.6,"t":5.271,"b":4.747},
{"k":20,"s":54.7,"m":305.3,"t":5.267,"b":4.751},
{"k":20,"s":58.05,"m":301.95,"t":5.262,"b":4.755},
{"k":20,"s":61.4,"m":298.6,"t":5.257,"b":4.759},
{"k":20,"s":65.6,"m":294.4,"t":5.252,"b":4.763},
{"k":20,"s":69.9,"m":290.1,"t":5.248,"b":4.767},
{"k":20,"s":72.5,"m":287.5,"t":5.245,"b":4.77},
{"k":20,"s":76.5,"m":283.5,"t":5.243,"b":4.772},
{"k":20,"s":82,"m":278,"t":5.24,"b":4.774},
{"k":20,"s":90.4,"m":269.6,"t":5.238,"b":4.776},
{"k":20,"s":95,"m":265,"t":5.235,"b":4.779},
{"k":20,"s":99.5,"m":260.5,"t":5.232,"b":4.781},
{"k":20,"s":103.4,"m":256.6,"t":5.23,"b":4.783},
{"k":20,"s":106.8,"m":253.2,"t":5.227,"b":4.785},
{"k":20,"s":112.3,"m":247.7,"t":5.222,"b":4.79},
{"k":20,"s":117.9,"m":242.1,"t":5.216,"b":4.795},
{"k":20,"s":122.9,"m":237.1,"t":5.211,"b":4.8},
{"k":20,"s":127.9,"m":232.1,"t":5.205,"b":4.805},
{"k":20,"s":133.2,"m":226.8,"t":5.199,"b":4.811},
{"k":20,"s":138.5,"m":221.5,"t":5.193,"b":4.816},
{"k":20,"s":144,"m":216,"t":5.187,"b":4.822},
{"k":20,"s":150.8,"m":209.2,"t":5.18,"b":4.828},
{"k":20,"s":154.5,"m":205.5,"t":5.177,"b":4.831},
{"k":20,"s":158,"m":202,"t":5.173,"b":4.834},
{"k":20,"s":163.3,"m":196.7,"t":5.17,"b":4.837},
{"k":20,"s":171.9,"m":188.1,"t":5.167,"b":4.84},
{"k":20,"s":180,"m":180,"t":5.168,"b":4.84},
{"k":21,"s":0,"m":360,"t":5.32,"b":4.705},
{"k":21,"s":7,"m":353,"t":5.32,"b":4.706},
{"k":21,"s":14,"m":346,"t":5.318,"b":4.708},
{"k":21,"s":20.25,"m":339.75,"t":5.314,"b":4.711},
{"k":21,"s":26.5,"m":333.5,"t":5.31,"b":4.714},
{"k":21,"s":30.65,"m":329.35,"t":5.306,"b":4.718},
{"k":21,"s":34.8,"m":325.2,"t":5.302,"b":4.721},
{"k":21,"s":38.15,"m":321.85,"t":5.298,"b":4.725},
{"k":21,"s":41.5,"m":318.5,"t":5.293,"b":4.728},
{"k":21,"s":44.8,"m":315.2,"t":5.289,"b":4.732},
{"k":21,"s":48.1,"m":311.9,"t":5.285,"b":4.736},
{"k":21,"s":51.4,"m":308.6,"t":5.28,"b":4.739},
{"k":21,"s":54.7,"m":305.3,"t":5.276,"b":4.743},
{"k":21,"s":58.05,"m":301.95,"t":5.271,"b":4.747},
{"k":21,"s":61.4,"m":298.6,"t":5.267,"b":4.751},
{"k":21,"s":65.6,"m":294.4,"t":5.262,"b":4.755},
{"k":21,"s":69.9,"m":290.1,"t":5.257,"b":4.759},
{"k":21,"s":72.5,"m":287.5,"t":5.255,"b":4.761},
{"k":21,"s":76.5,"m":283.5,"t":5.252,"b":4.763},
{"k":21,"s":82,"m":278,"t":5.25,"b":4.765},
{"k":21,"s":90.4,"m":269.6,"t":5.248,"b":4.767},
{"k":21,"s":95,"m":265,"t":5.245,"b":4.77},
{"k":21,"s":99.5,"m":260.5,"t":5.243,"b":4.772},
{"k":21,"s":103.4,"m":256.6,"t":5.24,"b":4.774},
{"k":21,"s":106.8,"m":253.2,"t":5.238,"b":4.776},
{"k":21,"s":112.3,"m":247.7,"t":5.232,"b":4.781},
{"k":21,"s":117.9,"m":242.1,"t":5.227,"b":4.785},
{"k":21,"s":122.9,"m":237.1,"t":5.222,"b":4.79},
{"k":21,"s":127.9,"m":232.1,"t":5.216,"b":4.795},
{"k":21,"s":133.2,"m":226.8,"t":5.211,"b":4.8},
{"k":21,"s":138.5,"m":221.5,"t":5.205,"b":4.805},
{"k":21,"s":144,"m":216,"t":5.199,"b":4.811},
{"k":21,"s":150.8,"m":209.2,"t":5.193,"b":4.816},
{"k":21,"s":154.5,"m":205.5,"t":5.19,"b":4.819},
{"k":21,"s":158,"m":202,"t":5.187,"b":4.822},
{"k":21,"s":163.3,"m":196.7,"t":5.183,"b":4.825},
{"k":21,"s":171.9,"m":188.1,"t":5.18,"b":4.828},
{"k":21,"s":180,"m":180,"t":5.181,"b":4.828},
{"k":22,"s":0,"m":360,"t":5.329,"b":4.699},
{"k":22,"s":7,"m":353,"t":5.328,"b":4.7},
{"k":22,"s":14,"m":346,"t":5.326,"b":4.701},
{"k":22,"s":20.25,"m":339.75,"t":5.322,"b":4.705},
{"k":22,"s":26.5,"m":333.5,"t":5.318,"b":4.708},
{"k":22,"s":30.65,"m":329.35,"t":5.314,"b":4.711},
{"k":22,"s":34.8,"m":325.2,"t":5.31,"b":4.714},
{"k":22,"s":38.15,"m":321.85,"t":5.306,"b":4.718},
{"k":22,"s":41.5,"m":318.5,"t":5.302,"b":4.721},
{"k":22,"s":44.8,"m":315.2,"t":5.298,"b":4.725},
{"k":22,"s":48.1,"m":311.9,"t":5.293,"b":4.728},
{"k":22,"s":51.4,"m":308.6,"t":5.289,"b":4.732},
{"k":22,"s":54.7,"m":305.3,"t":5.285,"b":4.736},
{"k":22,"s":58.05,"m":301.95,"t":5.28,"b":4.739},
{"k":22,"s":61.4,"m":298.6,"t":5.276,"b":4.743},
{"k":22,"s":65.6,"m":294.4,"t":5.271,"b":4.747},
{"k":22,"s":69.9,"m":290.1,"t":5.267,"b":4.751},
{"k":22,"s":72.5,"m":287.5,"t":5.264,"b":4.753},
{"k":22,"s":76.5,"m":283.5,"t":5.262,"b":4.755},
{"k":22,"s":82,"m":278,"t":5.26,"b":4.757},
{"k":22,"s":90.4,"m":269.6,"t":5.257,"b":4.759},
{"k":22,"s":95,"m":265,"t":5.255,"b":4.761},
{"k":22,"s":99.5,"m":260.5,"t":5.252,"b":4.763},
{"k":22,"s":103.4,"m":256.6,"t":5.25,"b":4.765},
{"k":22,"s":106.8,"m":253.2,"t":5.248,"b":4.767},
{"k":22,"s":112.3,"m":247.7,"t":5.243,"b":4.772},
{"k":22,"s":117.9,"m":242.1,"t":5.238,"b":4.776},
{"k":22,"s":122.9,"m":237.1,"t":5.232,"b":4.781},
{"k":22,"s":127.9,"m":232.1,"t":5.227,"b":4.785},
{"k":22,"s":133.2,"m":226.8,"t":5.222,"b":4.79},
{"k":22,"s":138.5,"m":221.5,"t":5.216,"b":4.795},
{"k":22,"s":144,"m":216,"t":5.211,"b":4.8},
{"k":22,"s":150.8,"m":209.2,"t":5.205,"b":4.805},
{"k":22,"s":154.5,"m":205.5,"t":5.202,"b":4.808},
{"k":22,"s":158,"m":202,"t":5.199,"b":4.811},
{"k":22,"s":163.3,"m":196.7,"t":5.196,"b":4.814},
{"k":22,"s":171.9,"m":188.1,"t":5.193,"b":4.816},
{"k":22,"s":180,"m":180,"t":5.192,"b":4.817},
{"k":23,"s":0,"m":360,"t":5.337,"b":4.693},
{"k":23,"s":7,"m":353,"t":5.336,"b":4.694},
{"k":23,"s":14,"m":346,"t":5.334,"b":4.695},
{"k":23,"s":20.25,"m":339.75,"t":5.33,"b":4.698},
{"k":23,"s":26.5,"m":333.5,"t":5.326,"b":4.701},
{"k":23,"s":30.65,"m":329.35,"t":5.322,"b":4.705},
{"k":23,"s":34.8,"m":325.2,"t":5.318,"b":4.708},
{"k":23,"s":38.15,"m":321.85,"t":5.314,"b":4.711},
{"k":23,"s":41.5,"m":318.5,"t":5.31,"b":4.714},
{"k":23,"s":44.8,"m":315.2,"t":5.306,"b":4.718},
{"k":23,"s":48.1,"m":311.9,"t":5.302,"b":4.721},
{"k":23,"s":51.4,"m":308.6,"t":5.298,"b":4.725},
{"k":23,"s":54.7,"m":305.3,"t":5.293,"b":4.728},
{"k":23,"s":58.05,"m":301.95,"t":5.289,"b":4.732},
{"k":23,"s":61.4,"m":298.6,"t":5.285,"b":4.736},
{"k":23,"s":65.6,"m":294.4,"t":5.28,"b":4.739},
{"k":23,"s":69.9,"m":290.1,"t":5.276,"b":4.743},
{"k":23,"s":72.5,"m":287.5,"t":5.274,"b":4.745},
{"k":23,"s":76.5,"m":283.5,"t":5.271,"b":4.747},
{"k":23,"s":82,"m":278,"t":5.269,"b":4.749},
{"k":23,"s":90.4,"m":269.6,"t":5.267,"b":4.751},
{"k":23,"s":95,"m":265,"t":5.264,"b":4.753},
{"k":23,"s":99.5,"m":260.5,"t":5.262,"b":4.755},
{"k":23,"s":103.4,"m":256.6,"t":5.26,"b":4.757},
{"k":23,"s":106.8,"m":253.2,"t":5.257,"b":4.759},
{"k":23,"s":112.3,"m":247.7,"t":5.252,"b":4.763},
{"k":23,"s":117.9,"m":242.1,"t":5.248,"b":4.767},
{"k":23,"s":122.9,"m":237.1,"t":5.243,"b":4.772},
{"k":23,"s":127.9,"m":232.1,"t":5.238,"b":4.776},
{"k":23,"s":133.2,"m":226.8,"t":5.232,"b":4.781},
{"k":23,"s":138.5,"m":221.5,"t":5.227,"b":4.785},
{"k":23,"s":144,"m":216,"t":5.222,"b":4.79},
{"k":23,"s":150.8,"m":209.2,"t":5.216,"b":4.795},
{"k":23,"s":154.5,"m":205.5,"t":5.213,"b":4.798},
{"k":23,"s":158,"m":202,"t":5.211,"b":4.8},
{"k":23,"s":163.3,"m":196.7,"t":5.208,"b":4.803},
{"k":23,"s":171.9,"m":188.1,"t":5.205,"b":4.805},
{"k":23,"s":180,"m":180,"t":5.206,"b":4.805},
{"k":24,"s":20.25,"m":339.75,"t":5.338,"b":4.692},
{"k":24,"s":26.5,"m":333.5,"t":5.334,"b":4.695},
{"k":24,"s":30.65,"m":329.35,"t":5.33,"b":4.698},
{"k":24,"s":34.8,"m":325.2,"t":5.326,"b":4.701},
{"k":24,"s":38.15,"m":321.85,"t":5.322,"b":4.705},
{"k":24,"s":41.5,"m":318.5,"t":5.318,"b":4.708},
{"k":24,"s":44.8,"m":315.2,"t":5.314,"b":4.711},
{"k":24,"s":48.1,"m":311.9,"t":5.31,"b":4.714},
{"k":24,"s":51.4,"m":308.6,"t":5.306,"b":4.718},
{"k":24,"s":54.7,"m":305.3,"t":5.302,"b":4.721},
{"k":24,"s":58.05,"m":301.95,"t":5.298,"b":4.725},
{"k":24,"s":61.4,"m":298.6,"t":5.293,"b":4.728},
{"k":24,"s":65.6,"m":294.4,"t":5.289,"b":4.732},
{"k":24,"s":69.9,"m":290.1,"t":5.285,"b":4.736},
{"k":24,"s":72.5,"m":287.5,"t":5.282,"b":4.737},
{"k":24,"s":76.5,"m":283.5,"t":5.28,"b":4.739},
{"k":24,"s":82,"m":278,"t":5.278,"b":4.741},
{"k":24,"s":90.4,"m":269.6,"t":5.276,"b":4.743},
{"k":24,"s":95,"m":265,"t":5.274,"b":4.745},
{"k":24,"s":99.5,"m":260.5,"t":5.271,"b":4.747},
{"k":24,"s":103.4,"m":256.6,"t":5.269,"b":4.749},
{"k":24,"s":106.8,"m":253.2,"t":5.267,"b":4.751},
{"k":24,"s":112.3,"m":247.7,"t":5.262,"b":4.755},
{"k":24,"s":117.9,"m":242.1,"t":5.257,"b":4.759},
{"k":24,"s":122.9,"m":237.1,"t":5.252,"b":4.763},
{"k":24,"s":127.9,"m":232.1,"t":5.248,"b":4.767},
{"k":24,"s":133.2,"m":226.8,"t":5.243,"b":4.772},
{"k":24,"s":138.5,"m":221.5,"t":5.238,"b":4.776},
{"k":24,"s":144,"m":216,"t":5.232,"b":4.781},
{"k":24,"s":150.8,"m":209.2,"t":5.227,"b":4.785},
{"k":24,"s":154.5,"m":205.5,"t":5.224,"b":4.788},
{"k":24,"s":158,"m":202,"t":5.222,"b":4.79},
{"k":24,"s":163.3,"m":196.7,"t":5.219,"b":4.793},
{"k":24,"s":171.9,"m":188.1,"t":5.216,"b":4.795},
{"k":24,"s":180,"m":180,"t":5.218,"b":4.795},
{"k":25,"s":26.5,"m":333.5,"t":5.34,"b":4.689},
{"k":25,"s":30.65,"m":329.35,"t":5.338,"b":4.692},
{"k":25,"s":34.8,"m":325.2,"t":5.334,"b":4.695},
{"k":25,"s":38.15,"m":321.85,"t":5.33,"b":4.698},
{"k":25,"s":41.5,"m":318.5,"t":5.326,"b":4.701},
{"k":25,"s":44.8,"m":315.2,"t":5.322,"b":4.705},
{"k":25,"s":48.1,"m":311.9,"t":5.318,"b":4.708},
{"k":25,"s":51.4,"m":308.6,"t":5.314,"b":4.711},
{"k":25,"s":54.7,"m":305.3,"t":5.31,"b":4.714},
{"k":25,"s":58.05,"m":301.95,"t":5.306,"b":4.718},
{"k":25,"s":61.4,"m":298.6,"t":5.302,"b":4.721},
{"k":25,"s":65.6,"m":294.4,"t":5.298,"b":4.725},
{"k":25,"s":69.9,"m":290.1,"t":5.293,"b":4.728},
{"k":25,"s":72.5,"m":287.5,"t":5.291,"b":4.73},
{"k":25,"s":76.5,"m":283.5,"t":5.289,"b":4.732},
{"k":25,"s":82,"m":278,"t":5.287,"b":4.734},
{"k":25,"s":90.4,"m":269.6,"t":5.285,"b":4.736},
{"k":25,"s":95,"m":265,"t":5.282,"b":4.737},
{"k":25,"s":99.5,"m":260.5,"t":5.28,"b":4.739},
{"k":25,"s":103.4,"m":256.6,"t":5.278,"b":4.741},
{"k":25,"s":106.8,"m":253.2,"t":5.276,"b":4.743},
{"k":25,"s":112.3,"m":247.7,"t":5.271,"b":4.747},
{"k":25,"s":117.9,"m":242.1,"t":5.267,"b":4.751},
{"k":25,"s":122.9,"m":237.1,"t":5.262,"b":4.755},
{"k":25,"s":127.9,"m":232.1,"t":5.257,"b":4.759},
{"k":25,"s":133.2,"m":226.8,"t":5.252,"b":4.763},
{"k":25,"s":138.5,"m":221.5,"t":5.248,"b":4.767},
{"k":25,"s":144,"m":216,"t":5.243,"b":4.772},
{"k":25,"s":150.8,"m":209.2,"t":5.238,"b":4.776},
{"k":25,"s":154.5,"m":205.5,"t":5.235,"b":4.779},
{"k":25,"s":158,"m":202,"t":5.232,"b":4.781},
{"k":25,"s":163.3,"m":196.7,"t":5.23,"b":4.783},
{"k":25,"s":171.9,"m":188.1,"t":5.227,"b":4.785},
{"k":25,"s":180,"m":180,"t":5.228,"b":4.786},
{"k":26,"s":34.8,"m":325.2,"t":5.34,"b":4.689},
{"k":26,"s":38.15,"m":321.85,"t":5.338,"b":4.692},
{"k":26,"s":41.5,"m":318.5,"t":5.334,"b":4.695},
{"k":26,"s":44.8,"m":315.2,"t":5.33,"b":4.698},
{"k":26,"s":48.1,"m":311.9,"t":5.326,"b":4.701},
{"k":26,"s":51.4,"m":308.6,"t":5.322,"b":4.705},
{"k":26,"s":54.7,"m":305.3,"t":5.318,"b":4.708},
{"k":26,"s":58.05,"m":301.95,"t":5.314,"b":4.711},
{"k":26,"s":61.4,"m":298.6,"t":5.31,"b":4.714},
{"k":26,"s":65.6,"m":294.4,"t":5.306,"b":4.718},
{"k":26,"s":69.9,"m":290.1,"t":5.302,"b":4.721},
{"k":26,"s":72.5,"m":287.5,"t":5.3,"b":4.723},
{"k":26,"s":76.5,"m":283.5,"t":5.298,"b":4.725},
{"k":26,"s":82,"m":278,"t":5.295,"b":4.727},
{"k":26,"s":90.4,"m":269.6,"t":5.293,"b":4.728},
{"k":26,"s":95,"m":265,"t":5.291,"b":4.73},
{"k":26,"s":99.5,"m":260.5,"t":5.289,"b":4.732},
{"k":26,"s":103.4,"m":256.6,"t":5.287,"b":4.734},
{"k":26,"s":106.8,"m":253.2,"t":5.285,"b":4.736},
{"k":26,"s":112.3,"m":247.7,"t":5.28,"b":4.739},
{"k":26,"s":117.9,"m":242.1,"t":5.276,"b":4.743},
{"k":26,"s":122.9,"m":237.1,"t":5.271,"b":4.747},
{"k":26,"s":127.9,"m":232.1,"t":5.267,"b":4.751},
{"k":26,"s":133.2,"m":226.8,"t":5.262,"b":4.755},
{"k":26,"s":138.5,"m":221.5,"t":5.257,"b":4.759},
{"k":26,"s":144,"m":216,"t":5.252,"b":4.763},
{"k":26,"s":150.8,"m":209.2,"t":5.248,"b":4.767},
{"k":26,"s":154.5,"m":205.5,"t":5.245,"b":4.77},
{"k":26,"s":158,"m":202,"t":5.243,"b":4.772},
{"k":26,"s":163.3,"m":196.7,"t":5.24,"b":4.774},
{"k":26,"s":171.9,"m":188.1,"t":5.238,"b":4.776},
{"k":26,"s":180,"m":180,"t":5.238,"b":4.776},
{"k":27,"s":41.5,"m":318.5,"t":5.34,"b":4.689},
{"k":27,"s":44.8,"m":315.2,"t":5.338,"b":4.692},
{"k":27,"s":48.1,"m":311.9,"t":5.334,"b":4.695},
{"k":27,"s":51.4,"m":308.6,"t":5.33,"b":4.698},
{"k":27,"s":54.7,"m":305.3,"t":5.326,"b":4.701},
{"k":27,"s":58.05,"m":301.95,"t":5.322,"b":4.705},
{"k":27,"s":61.4,"m":298.6,"t":5.318,"b":4.708},
{"k":27,"s":65.6,"m":294.4,"t":5.314,"b":4.711},
{"k":27,"s":69.9,"m":290.1,"t":5.31,"b":4.714},
{"k":27,"s":72.5,"m":287.5,"t":5.308,"b":4.716},
{"k":27,"s":76.5,"m":283.5,"t":5.306,"b":4.718},
{"k":27,"s":82,"m":278,"t":5.304,"b":4.72},
{"k":27,"s":90.4,"m":269.6,"t":5.302,"b":4.721},
{"k":27,"s":95,"m":265,"t":5.3,"b":4.723},
{"k":27,"s":99.5,"m":260.5,"t":5.298,"b":4.725},
{"k":27,"s":103.4,"m":256.6,"t":5.295,"b":4.727},
{"k":27,"s":106.8,"m":253.2,"t":5.293,"b":4.728},
{"k":27,"s":112.3,"m":247.7,"t":5.289,"b":4.732},
{"k":27,"s":117.9,"m":242.1,"t":5.285,"b":4.736},
{"k":27,"s":122.9,"m":237.1,"t":5.28,"b":4.739},
{"k":27,"s":127.9,"m":232.1,"t":5.276,"b":4.743},
{"k":27,"s":133.2,"m":226.8,"t":5.271,"b":4.747},
{"k":27,"s":138.5,"m":221.5,"t":5.267,"b":4.751},
{"k":27,"s":144,"m":216,"t":5.262,"b":4.755},
{"k":27,"s":150.8,"m":209.2,"t":5.257,"b":4.759},
{"k":27,"s":154.5,"m":205.5,"t":5.255,"b":4.761},
{"k":27,"s":158,"m":202,"t":5.252,"b":4.763},
{"k":27,"s":163.3,"m":196.7,"t":5.25,"b":4.765},
{"k":27,"s":171.9,"m":188.1,"t":5.248,"b":4.767},
{"k":27,"s":180,"m":180,"t":5.248,"b":4.767},
{"k":28,"s":48.1,"m":311.9,"t":5.34,"b":4.689},
{"k":28,"s":51.4,"m":308.6,"t":5.338,"b":4.692},
{"k":28,"s":54.7,"m":305.3,"t":5.334,"b":4.695},
{"k":28,"s":58.05,"m":301.95,"t":5.33,"b":4.698},
{"k":28,"s":61.4,"m":298.6,"t":5.326,"b":4.701},
{"k":28,"s":65.6,"m":294.4,"t":5.322,"b":4.705},
{"k":28,"s":69.9,"m":290.1,"t":5.318,"b":4.708},
{"k":28,"s":72.5,"m":287.5,"t":5.316,"b":4.709},
{"k":28,"s":76.5,"m":283.5,"t":5.314,"b":4.711},
{"k":28,"s":82,"m":278,"t":5.312,"b":4.713},
{"k":28,"s":90.4,"m":269.6,"t":5.31,"b":4.714},
{"k":28,"s":95,"m":265,"t":5.308,"b":4.716},
{"k":28,"s":99.5,"m":260.5,"t":5.306,"b":4.718},
{"k":28,"s":103.4,"m":256.6,"t":5.304,"b":4.72},
{"k":28,"s":106.8,"m":253.2,"t":5.302,"b":4.721},
{"k":28,"s":112.3,"m":247.7,"t":5.298,"b":4.725},
{"k":28,"s":117.9,"m":242.1,"t":5.293,"b":4.728},
{"k":28,"s":122.9,"m":237.1,"t":5.289,"b":4.732},
{"k":28,"s":127.9,"m":232.1,"t":5.285,"b":4.736},
{"k":28,"s":133.2,"m":226.8,"t":5.28,"b":4.739},
{"k":28,"s":138.5,"m":221.5,"t":5.276,"b":4.743},
{"k":28,"s":144,"m":216,"t":5.271,"b":4.747},
{"k":28,"s":150.8,"m":209.2,"t":5.267,"b":4.751},
{"k":28,"s":154.5,"m":205.5,"t":5.264,"b":4.753},
{"k":28,"s":158,"m":202,"t":5.262,"b":4.755},
{"k":28,"s":163.3,"m":196.7,"t":5.26,"b":4.757},
{"k":28,"s":171.9,"m":188.1,"t":5.257,"b":4.759},
{"k":28,"s":180,"m":180,"t":5.258,"b":4.758},
{"k":29,"s":54.7,"m":305.3,"t":5.34,"b":4.689},
{"k":29,"s":58.05,"m":301.95,"t":5.338,"b":4.692},
{"k":29,"s":61.4,"m":298.6,"t":5.334,"b":4.695},
{"k":29,"s":65.6,"m":294.4,"t":5.33,"b":4.698},
{"k":29,"s":69.9,"m":290.1,"t":5.326,"b":4.701},
{"k":29,"s":72.5,"m":287.5,"t":5.324,"b":4.703},
{"k":29,"s":76.5,"m":283.5,"t":5.322,"b":4.705},
{"k":29,"s":82,"m":278,"t":5.32,"b":4.706},
{"k":29,"s":90.4,"m":269.6,"t":5.318,"b":4.708},
{"k":29,"s":95,"m":265,"t":5.316,"b":4.709},
{"k":29,"s":99.5,"m":260.5,"t":5.314,"b":4.711},
{"k":29,"s":103.4,"m":256.6,"t":5.312,"b":4.713},
{"k":29,"s":106.8,"m":253.2,"t":5.31,"b":4.714},
{"k":29,"s":112.3,"m":247.7,"t":5.306,"b":4.718},
{"k":29,"s":117.9,"m":242.1,"t":5.302,"b":4.721},
{"k":29,"s":122.9,"m":237.1,"t":5.298,"b":4.725},
{"k":29,"s":127.9,"m":232.1,"t":5.293,"b":4.728},
{"k":29,"s":133.2,"m":226.8,"t":5.289,"b":4.732},
{"k":29,"s":138.5,"m":221.5,"t":5.285,"b":4.736},
{"k":29,"s":144,"m":216,"t":5.28,"b":4.739},
{"k":29,"s":150.8,"m":209.2,"t":5.276,"b":4.743},
{"k":29,"s":154.5,"m":205.5,"t":5.274,"b":4.745},
{"k":29,"s":158,"m":202,"t":5.271,"b":4.747},
{"k":29,"s":163.3,"m":196.7,"t":5.269,"b":4.749},
{"k":29,"s":171.9,"m":188.1,"t":5.267,"b":4.751},
{"k":29,"s":180,"m":180,"t":5.268,"b":4.75},
{"k":30,"s":61.4,"m":298.6,"t":5.34,"b":4.689},
{"k":30,"s":65.6,"m":294.4,"t":5.338,"b":4.692},
{"k":30,"s":69.9,"m":290.1,"t":5.334,"b":4.695},
{"k":30,"s":72.5,"m":287.5,"t":5.332,"b":4.697},
{"k":30,"s":76.5,"m":283.5,"t":5.33,"b":4.698},
{"k":30,"s":82,"m":278,"t":5.328,"b":4.7},
{"k":30,"s":90.4,"m":269.6,"t":5.326,"b":4.701},
{"k":30,"s":95,"m":265,"t":5.324,"b":4.703},
{"k":30,"s":99.5,"m":260.5,"t":5.322,"b":4.705},
{"k":30,"s":103.4,"m":256.6,"t":5.32,"b":4.706},
{"k":30,"s":106.8,"m":253.2,"t":5.318,"b":4.708},
{"k":30,"s":112.3,"m":247.7,"t":5.314,"b":4.711},
{"k":30,"s":117.9,"m":242.1,"t":5.31,"b":4.714},
{"k":30,"s":122.9,"m":237.1,"t":5.306,"b":4.718},
{"k":30,"s":127.9,"m":232.1,"t":5.302,"b":4.721},
{"k":30,"s":133.2,"m":226.8,"t":5.298,"b":4.725},
{"k":30,"s":138.5,"m":221.5,"t":5.293,"b":4.728},
{"k":30,"s":144,"m":216,"t":5.289,"b":4.732},
{"k":30,"s":150.8,"m":209.2,"t":5.285,"b":4.736},
{"k":30,"s":154.5,"m":205.5,"t":5.282,"b":4.737},
{"k":30,"s":158,"m":202,"t":5.28,"b":4.739},
{"k":30,"s":163.3,"m":196.7,"t":5.278,"b":4.741},
{"k":30,"s":171.9,"m":188.1,"t":5.276,"b":4.743},
{"k":30,"s":180,"m":180,"t":5.276,"b":4.742},
{"k":31,"s":69.9,"m":290.1,"t":5.34,"b":4.689},
{"k":31,"s":72.5,"m":287.5,"t":5.34,"b":4.69},
{"k":31,"s":76.5,"m":283.5,"t":5.338,"b":4.692},
{"k":31,"s":82,"m":278,"t":5.336,"b":4.694},
{"k":31,"s":90.4,"m":269.6,"t":5.334,"b":4.695},
{"k":31,"s":95,"m":265,"t":5.332,"b":4.697},
{"k":31,"s":99.5,"m":260.5,"t":5.33,"b":4.698},
{"k":31,"s":103.4,"m":256.6,"t":5.328,"b":4.7},
{"k":31,"s":106.8,"m":253.2,"t":5.326,"b":4.701},
{"k":31,"s":112.3,"m":247.7,"t":5.322,"b":4.705},
{"k":31,"s":117.9,"m":242.1,"t":5.318,"b":4.708},
{"k":31,"s":122.9,"m":237.1,"t":5.314,"b":4.711},
{"k":31,"s":127.9,"m":232.1,"t":5.31,"b":4.714},
{"k":31,"s":133.2,"m":226.8,"t":5.306,"b":4.718},
{"k":31,"s":138.5,"m":221.5,"t":5.302,"b":4.721},
{"k":31,"s":144,"m":216,"t":5.298,"b":4.725},
{"k":31,"s":150.8,"m":209.2,"t":5.293,"b":4.728},
{"k":31,"s":154.5,"m":205.5,"t":5.291,"b":4.73},
{"k":31,"s":158,"m":202,"t":5.289,"b":4.732},
{"k":31,"s":163.3,"m":196.7,"t":5.287,"b":4.734},
{"k":31,"s":171.9,"m":188.1,"t":5.285,"b":4.736},
{"k":31,"s":180,"m":180,"t":5.285,"b":4.735},
{"k":32,"s":90.4,"m":269.6,"t":5.34,"b":4.689},
{"k":32,"s":95,"m":265,"t":5.34,"b":4.69},
{"k":32,"s":99.5,"m":260.5,"t":5.338,"b":4.692},
{"k":32,"s":103.4,"m":256.6,"t":5.336,"b":4.694},
{"k":32,"s":106.8,"m":253.2,"t":5.334,"b":4.695},
{"k":32,"s":112.3,"m":247.7,"t":5.33,"b":4.698},
{"k":32,"s":117.9,"m":242.1,"t":5.326,"b":4.701},
{"k":32,"s":122.9,"m":237.1,"t":5.322,"b":4.705},
{"k":32,"s":127.9,"m":232.1,"t":5.318,"b":4.708},
{"k":32,"s":133.2,"m":226.8,"t":5.314,"b":4.711},
{"k":32,"s":138.5,"m":221.5,"t":5.31,"b":4.714},
{"k":32,"s":144,"m":216,"t":5.306,"b":4.718},
{"k":32,"s":150.8,"m":209.2,"t":5.302,"b":4.721},
{"k":32,"s":154.5,"m":205.5,"t":5.3,"b":4.723},
{"k":32,"s":158,"m":202,"t":5.298,"b":4.725},
{"k":32,"s":163.3,"m":196.7,"t":5.295,"b":4.727},
{"k":32,"s":171.9,"m":188.1,"t":5.293,"b":4.728},
{"k":32,"s":180,"m":180,"t":5.294,"b":4.728},
{"k":33,"s":106.8,"m":253.2,"t":5.34,"b":4.689},
{"k":33,"s":112.3,"m":247.7,"t":5.338,"b":4.692},
{"k":33,"s":117.9,"m":242.1,"t":5.334,"b":4.695},
{"k":33,"s":122.9,"m":237.1,"t":5.33,"b":4.698},
{"k":33,"s":127.9,"m":232.1,"t":5.326,"b":4.701},
{"k":33,"s":133.2,"m":226.8,"t":5.322,"b":4.705},
{"k":33,"s":138.5,"m":221.5,"t":5.318,"b":4.708},
{"k":33,"s":144,"m":216,"t":5.314,"b":4.711},
{"k":33,"s":150.8,"m":209.2,"t":5.31,"b":4.714},
{"k":33,"s":154.5,"m":205.5,"t":5.308,"b":4.716},
{"k":33,"s":158,"m":202,"t":5.306,"b":4.718},
{"k":33,"s":163.3,"m":196.7,"t":5.304,"b":4.72},
{"k":33,"s":171.9,"m":188.1,"t":5.302,"b":4.721},
{"k":33,"s":180,"m":180,"t":5.303,"b":4.72},
{"k":34,"s":117.9,"m":242.1,"t":5.34,"b":4.689},
{"k":34,"s":122.9,"m":237.1,"t":5.338,"b":4.692},
{"k":34,"s":127.9,"m":232.1,"t":5.334,"b":4.695},
{"k":34,"s":133.2,"m":226.8,"t":5.33,"b":4.698},
{"k":34,"s":138.5,"m":221.5,"t":5.326,"b":4.701},
{"k":34,"s":144,"m":216,"t":5.322,"b":4.705},
{"k":34,"s":150.8,"m":209.2,"t":5.318,"b":4.708},
{"k":34,"s":154.5,"m":205.5,"t":5.316,"b":4.709},
{"k":34,"s":158,"m":202,"t":5.314,"b":4.711},
{"k":34,"s":163.3,"m":196.7,"t":5.312,"b":4.713},
{"k":34,"s":171.9,"m":188.1,"t":5.31,"b":4.714},
{"k":34,"s":180,"m":180,"t":5.31,"b":4.713},
{"k":35,"s":127.9,"m":232.1,"t":5.34,"b":4.689},
{"k":35,"s":133.2,"m":226.8,"t":5.338,"b":4.692},
{"k":35,"s":138.5,"m":221.5,"t":5.334,"b":4.695},
{"k":35,"s":144,"m":216,"t":5.33,"b":4.698},
{"k":35,"s":150.8,"m":209.2,"t":5.326,"b":4.701},
{"k":35,"s":154.5,"m":205.5,"t":5.324,"b":4.703},
{"k":35,"s":158,"m":202,"t":5.322,"b":4.705},
{"k":35,"s":163.3,"m":196.7,"t":5.32,"b":4.706},
{"k":35,"s":171.9,"m":188.1,"t":5.318,"b":4.708},
{"k":35,"s":180,"m":180,"t":5.318,"b":4.707},
{"k":36,"s":138.5,"m":221.5,"t":5.34,"b":4.689},
{"k":36,"s":144,"m":216,"t":5.338,"b":4.692},
{"k":36,"s":150.8,"m":209.2,"t":5.334,"b":4.695},
{"k":36,"s":154.5,"m":205.5,"t":5.332,"b":4.697},
{"k":36,"s":158,"m":202,"t":5.33,"b":4.698},
{"k":36,"s":163.3,"m":196.7,"t":5.328,"b":4.7},
{"k":36,"s":171.9,"m":188.1,"t":5.326,"b":4.701},
{"k":36,"s":180,"m":180,"t":5.326,"b":4.702}
]
},
"layer": [
{"data": {"name": "c"}, "mark": {"type": "line", "clip": true, "strokeWidth": 5, "strokeJoin": "round"},
 "encoding": {
  "x": {"field": "s", "type": "quantitative", "title": "σ[°]", "scale": {"domain": [0, 360], "nice": false, "zero": false}, "axis": {"values": [0, 60, 120, 180, 240, 300, 360]}},
  "y": {"field": "t", "type": "quantitative", "title": "a [au]", "scale": {"domain": [4.7, 5.3], "nice": false, "zero": false}, "axis": {"values": [4.7, 4.8, 4.9, 5.0, 5.1, 5.2, 5.3], "format": ".1f"}},
  "detail": {"field": "k"},
  "color": {"field": "k", "type": "quantitative", "legend": null, "scale": {"domain": [0, 5.5, 11, 16.5, 22, 27.5, 33, 38.5, 44], "range": ["#08306b", "#08519c", "#2171b5", "#4292c6", "#6baed6", "#9ecae1", "#c6dbef", "#deebf7", "#f7fbff"]}}
 }},
{"data": {"name": "c"}, "mark": {"type": "line", "clip": true, "strokeWidth": 5, "strokeJoin": "round"},
 "encoding": {
  "x": {"field": "s", "type": "quantitative", "title": "σ[°]"},
  "y": {"field": "b", "type": "quantitative", "title": "a [au]"},
  "detail": {"field": "k"},
  "color": {"field": "k", "type": "quantitative", "legend": null}
 }},
{"data": {"name": "c"}, "mark": {"type": "line", "clip": true, "strokeWidth": 5, "strokeJoin": "round"},
 "encoding": {
  "x": {"field": "m", "type": "quantitative", "title": "σ[°]"},
  "y": {"field": "t", "type": "quantitative", "title": "a [au]"},
  "detail": {"field": "k"},
  "color": {"field": "k", "type": "quantitative", "legend": null}
 }},
{"data": {"name": "c"}, "mark": {"type": "line", "clip": true, "strokeWidth": 5, "strokeJoin": "round"},
 "encoding": {
  "x": {"field": "m", "type": "quantitative", "title": "σ[°]"},
  "y": {"field": "b", "type": "quantitative", "title": "a [au]"},
  "detail": {"field": "k"},
  "color": {"field": "k", "type": "quantitative", "legend": null}
 }},
{"data": {"name": "mk"}, "mark": {"type": "point", "shape": "M-1,-1L1,1M-1,1L1,-1", "size": 900, "strokeWidth": 4.5, "color": "#dc143c", "filled": false, "opacity": 1, "clip": true},
 "encoding": {
  "x": {"field": "s", "type": "quantitative", "title": "σ[°]"},
  "y": {"field": "a", "type": "quantitative", "title": "a [au]"}
 }}
],
"config": {
 "view": {"stroke": "black", "strokeWidth": 3},
 "axis": {"grid": false, "labelFont": "DejaVu Sans", "titleFont": "DejaVu Sans", "labelFontSize": 67, "titleFontSize": 67, "titleFontWeight": "normal", "labelColor": "black", "titleColor": "black", "tickColor": "black", "domainColor": "black", "tickWidth": 3, "domainWidth": 3, "tickSize": 13, "labelFlush": false, "labelOverlap": false},
 "axisX": {"labelPadding": 12, "titlePadding": 14},
 "axisY": {"labelPadding": 20, "titlePadding": 16}
}
}
